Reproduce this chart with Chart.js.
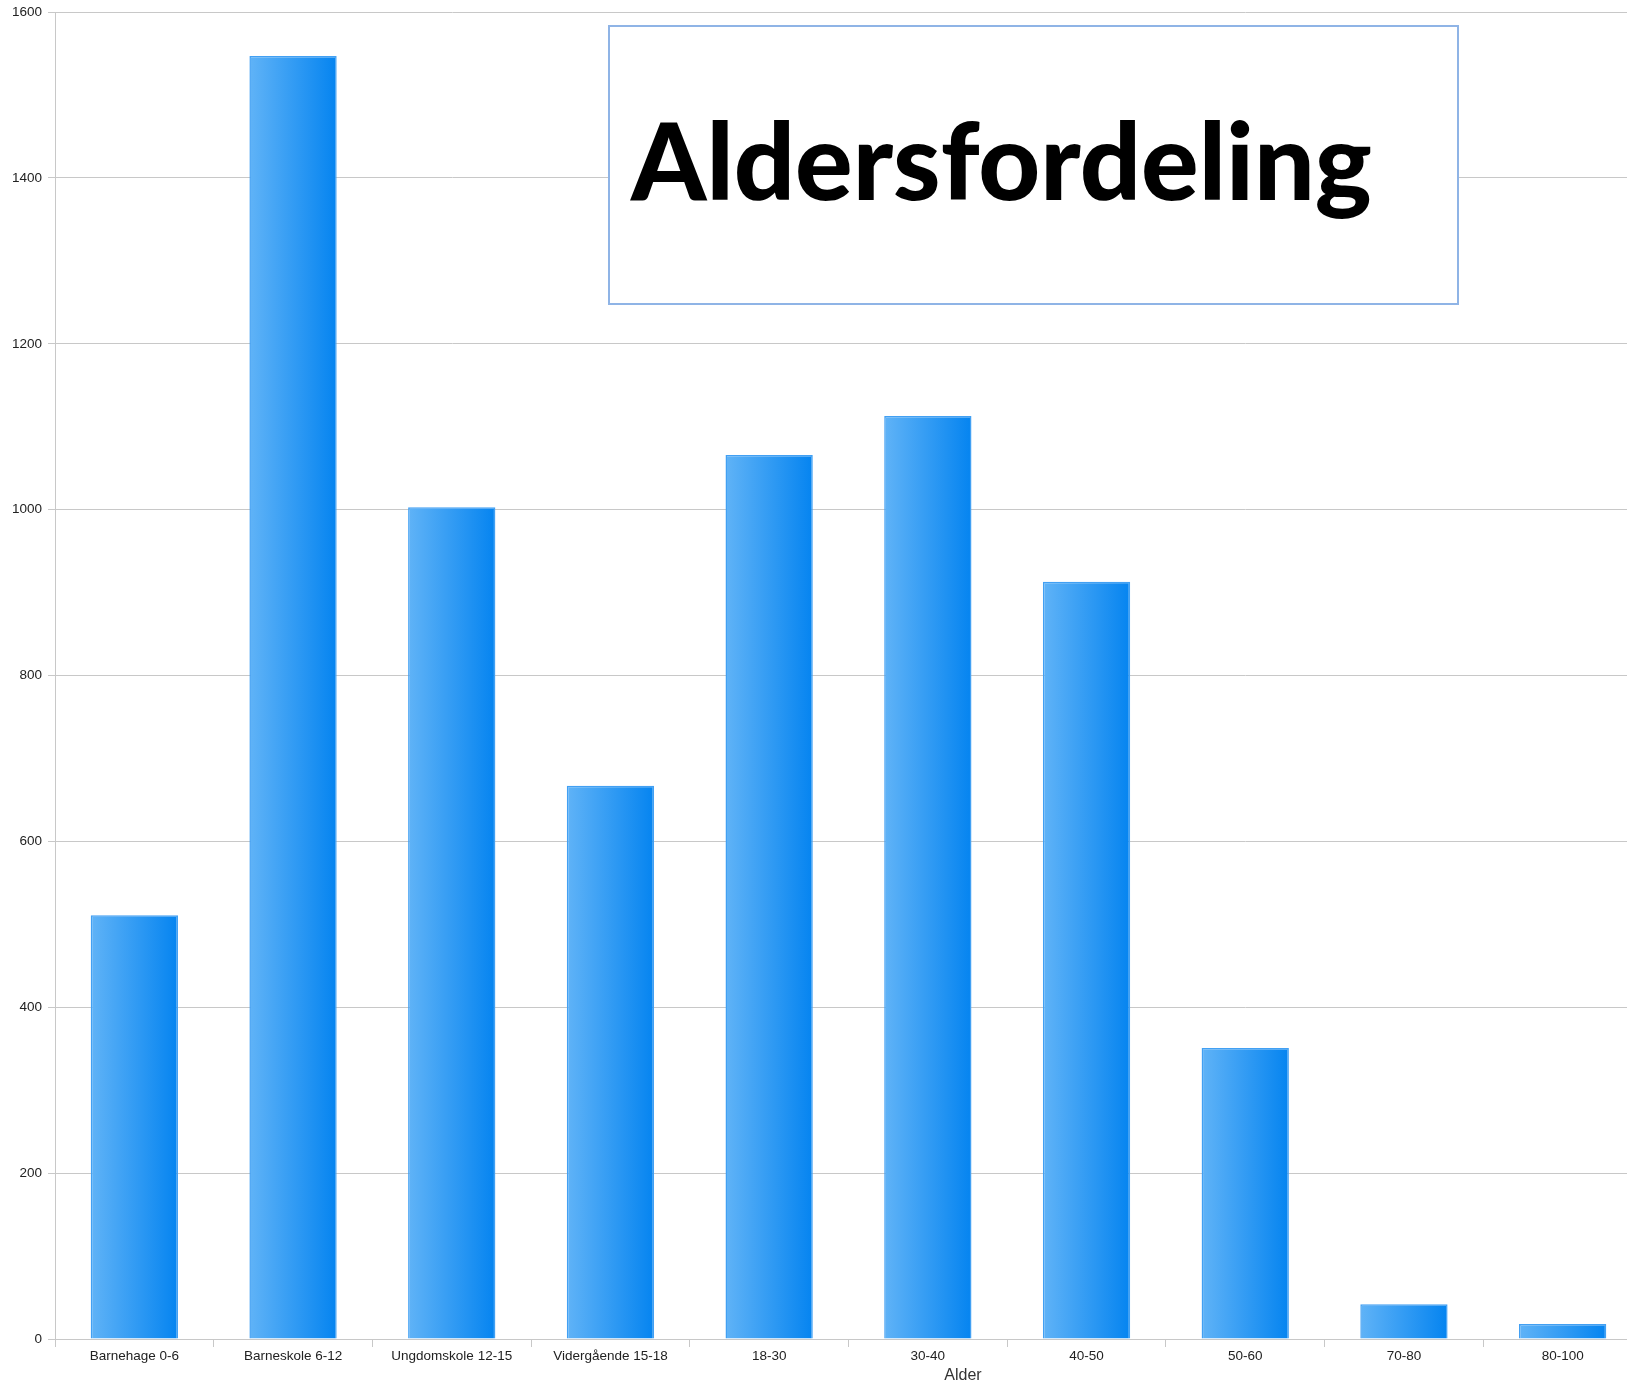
<!DOCTYPE html>
<html>
<head>
<meta charset="utf-8">
<script src="https://cdn.jsdelivr.net/npm/chart.js@4.4.1/dist/chart.umd.min.js"></script>
<style>
html,body{margin:0;padding:0;overflow:hidden;background:#fff;width:1627px;height:1384px;}
#wrap{position:absolute;left:0;top:-2px;width:1660px;height:1386px;}
</style>
</head>
<body>
<div id="wrap"><canvas id="c" width="1660" height="1386"></canvas></div>
<script>
const categories = ['Barnehage 0-6','Barneskole 6-12','Ungdomskole 12-15','Vidergående 15-18','18-30','30-40','40-50','50-60','70-80','80-100'];
const values = [511, 1547, 1003, 667, 1066, 1113, 913, 351, 42, 18];
const yMax = 1600;
const yStep = 200;
const titleText = 'Aldersfordeling';
const xTitle = 'Alder';

const BAR_PCT = 0.55;
const DY = 2; // canvas is shifted up by 2px

const overlay = {
  id: 'overlay',
  afterDraw(chart) {
    const c = chart.ctx;
    c.save();
    c.fillStyle = '#ffffff';
    c.fillRect(609, 26 + DY, 849, 278);
    c.strokeStyle = '#8fb4e6';
    c.lineWidth = 2;
    c.strokeRect(609, 26 + DY, 849, 278);
    c.font = '900 106px Lato';
    const m = c.measureText(titleText).width;
    c.translate(631, 200 + DY);
    c.scale(741 / m, 1);
    c.fillStyle = '#000';
    c.textBaseline = 'alphabetic';
    c.textAlign = 'left';
    c.fillText(titleText, 0, 0);
    c.restore();

    c.save();
    c.font = '16px "Liberation Sans", Arial, sans-serif';
    c.fillStyle = '#333';
    c.textAlign = 'center';
    c.textBaseline = 'middle';
    c.fillText(xTitle, 963, 1376 + DY);
    c.restore();
  }
};

function barFill(ctx) {
  const chart = ctx.chart;
  const xs = chart.scales && chart.scales.x;
  if (!xs || ctx.type !== 'data' || ctx.dataIndex === undefined) return '#2a95f2';
  const cx = xs.getPixelForValue(ctx.dataIndex);
  const w = (xs.width / categories.length) * BAR_PCT;
  if (!isFinite(cx) || !isFinite(w) || w <= 0) return '#2a95f2';
  const g = chart.ctx.createLinearGradient(cx - w / 2, 0, cx + w / 2, 0);
  g.addColorStop(0, '#60b3f7');
  g.addColorStop(1, '#0584f0');
  return g;
}

new Chart(document.getElementById('c'), {
  type: 'bar',
  data: {
    labels: categories,
    datasets: [{
      data: values,
      backgroundColor: barFill,
      borderColor: '#42a0f3',
      borderWidth: 1.5,
      categoryPercentage: 1,
      barPercentage: BAR_PCT
    }]
  },
  options: {
    responsive: false,
    devicePixelRatio: 1,
    animation: false,
    layout: { padding: { left: 0, right: 18, top: 10, bottom: 0 } },
    plugins: { legend: { display: false }, tooltip: { enabled: false }, title: { display: false } },
    scales: {
      x: {
        grid: { drawOnChartArea: false, drawTicks: true, tickLength: 8, color: '#c8c8c8', offset: true },
        border: { display: true, color: '#c8c8c8', width: 1 },
        ticks: { color: '#222', font: { family: '"Liberation Sans", Arial, sans-serif', size: 13.5 }, padding: 1, maxRotation: 0, autoSkip: false },
        afterFit: (s) => { s.height = 45; }
      },
      y: {
        min: 0, max: yMax,
        grid: { color: '#c8c8c8', tickLength: 7, drawTicks: true },
        border: { display: true, color: '#c8c8c8', width: 1 },
        ticks: { stepSize: yStep, color: '#222', font: { family: '"Liberation Sans", Arial, sans-serif', size: 13.5 }, padding: 6,
                 callback: (v) => String(v) },
        afterFit: (s) => { s.width = 55; }
      }
    }
  },
  plugins: [overlay]
});
</script>
</body>
</html>
